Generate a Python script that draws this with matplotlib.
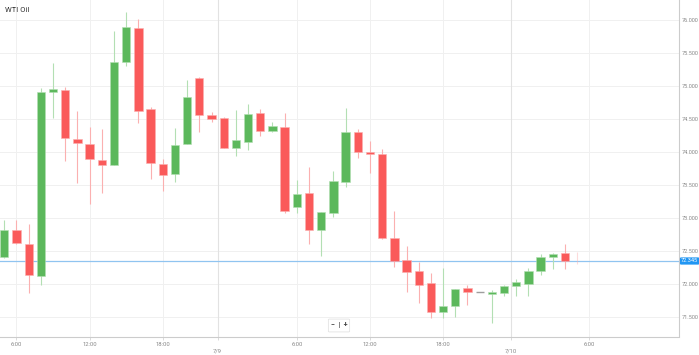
import numpy as np
import matplotlib
matplotlib.use('Agg')
from matplotlib import pyplot as plt
from matplotlib import transforms

plt.rcParams['font.family'] = ['Roboto', 'DejaVu Sans']

# hourly candles, WTI Oil
opens = [72.41, 72.815, 72.598, 72.117, 74.903, 74.938, 74.19, 74.119, 73.881, 73.80,
         75.358, 75.874, 74.645, 73.82, 73.66, 74.115, 75.125, 74.559, 74.514, 74.063,
         74.154, 74.585, 74.321, 74.382, 73.159, 73.376, 72.815, 73.077, 73.547, 74.306,
         73.993, 73.963, 72.693, 72.36, 72.193, 72.006, 71.567, 71.667, 71.93, 71.875,
         71.849, 71.859, 71.97, 72.0, 72.2, 72.40, 72.461, 72.35]
highs = [72.96, 72.97, 72.90, 74.964, 75.353, 74.986, 74.62, 74.382, 74.347, 75.838,
         76.126, 76.015, 74.676, 73.887, 74.357, 75.09, 75.14, 74.61, 74.533, 74.635,
         74.721, 74.655, 74.446, 74.594, 73.573, 73.775, 73.093, 73.71, 74.67, 74.342,
         74.165, 74.043, 73.108, 72.577, 72.325, 72.17, 72.243, 71.925, 71.98, 71.875,
         71.905, 71.98, 72.067, 72.237, 72.451, 72.461, 72.602, 72.474]
lows = [72.39, 72.61, 71.864, 71.984, 74.509, 73.866, 73.532, 73.209, 73.381, 73.80,
        75.30, 74.433, 73.588, 73.406, 73.547, 74.115, 74.297, 74.46, 74.054, 73.937,
        74.028, 74.245, 74.30, 73.068, 73.068, 72.603, 72.425, 73.017, 73.47, 73.90,
        73.684, 72.674, 72.26, 71.878, 71.712, 71.479, 71.479, 71.49, 71.677, 71.875,
        71.40, 71.807, 71.814, 71.814, 72.136, 72.222, 72.222, 72.302]
closes = [72.815, 72.614, 72.132, 74.903, 74.958, 74.206, 74.13, 73.887, 73.805, 75.358,
          75.90, 74.62, 73.826, 73.654, 74.104, 74.828, 74.559, 74.503, 74.054, 74.175,
          74.57, 74.316, 74.392, 73.108, 73.361, 72.81, 73.083, 73.558, 74.297, 74.0,
          73.97, 72.698, 72.345, 72.173, 71.984, 71.567, 71.662, 71.925, 71.87, 71.875,
          71.879, 71.964, 72.025, 72.193, 72.405, 72.454, 72.345, 72.345]
last_price = 72.345

time_pos = [1, 7, 13, 24, 30, 36, 48]
time_labels = ['6:00', '12:00', '18:00', '6:00', '12:00', '18:00', '6:00']
date_pos = [17.5, 41.55]
date_labels = ['7/9', '7/10']
y_ticks = [71.5, 72.0, 72.5, 73.0, 73.5, 74.0, 74.5, 75.0, 75.5, 76.0]

GREEN = '#5cb85c'
RED = '#fa5a5a'
GREEN_W = '#b3dfb3'
RED_W = '#fbb0b0'

fig = plt.figure(figsize=(6.99, 3.55), dpi=100)
ax = fig.add_axes([0, 18.5 / 355, 679 / 699, 1 - 18.5 / 355])

x = np.arange(len(opens))
o = np.array(opens); c = np.array(closes)
h = np.array(highs); l = np.array(lows)
n = len(o)
w = 0.68

for i in range(n):
    up = c[i] > o[i]
    flat = c[i] == o[i]
    pale = (i == n - 1)
    if flat:
        body_c, wick_c = '#9e9e9e', '#bdbdbd'
    elif up:
        body_c, wick_c = GREEN, GREEN_W
    else:
        body_c, wick_c = RED, RED_W
    a = 0.45 if pale else 1.0
    ax.vlines(x[i], l[i], h[i], color=wick_c, lw=0.8, zorder=3, alpha=a)
    if flat:
        ax.hlines(o[i], x[i] - w / 2, x[i] + w / 2, color=body_c, lw=1.0, zorder=4)
    elif not pale:
        ax.bar(x[i], abs(c[i] - o[i]), w, bottom=min(o[i], c[i]),
               color=body_c, edgecolor=wick_c, linewidth=0.4, zorder=4)

ax.axhline(last_price, color='#90c4f0', lw=0.9, zorder=2)

ax.set_xlim(-0.35, 55.35)
ax.set_ylim(71.20, 76.303)

# grid
for yv in y_ticks:
    ax.axhline(yv, color='#f0f0f0', lw=0.7, zorder=0)
for xv in time_pos:
    ax.axvline(xv, color='#f0f0f0', lw=0.7, zorder=0)
for xv in date_pos:
    ax.axvline(xv, color='#e2e2e2', lw=0.8, zorder=0)

ax.set_xticks(time_pos)
ax.set_xticklabels(time_labels)
ax.set_xticks(date_pos, minor=True)
ax.set_xticklabels(date_labels, minor=True)
ax.tick_params(axis='x', which='major', labelsize=4.2, colors='#888888', length=2,
               width=0.5, pad=2)
ax.tick_params(axis='x', which='minor', labelsize=4.2, colors='#888888', length=2,
               width=0.5, pad=6.5)
ax.tick_params(axis='x', which='both', color='#cccccc')

ax.yaxis.tick_right()
ax.set_yticks(y_ticks)
ax.set_yticklabels(['%.3f' % v for v in y_ticks])
ax.tick_params(axis='y', labelsize=4, colors='#888888', length=0, pad=2)

for s in ['top', 'left']:
    ax.spines[s].set_visible(False)
for s in ['bottom', 'right']:
    ax.spines[s].set_color('#cccccc')
    ax.spines[s].set_linewidth(0.8)

# current price tag
trans = transforms.blended_transform_factory(ax.transAxes, ax.transData)
ax.text(1.003, last_price, '%.3f' % last_price, transform=trans, fontsize=4,
        color='white', va='center', ha='left',
        bbox=dict(boxstyle='round,pad=0.2,rounding_size=0.2', fc='#2196f3', ec='none'))

ax.text(0.007, 0.97, 'WTI Oil', transform=ax.transAxes, fontsize=5.5,
        color='#333333', va='center', ha='left')

# zoom buttons
fig.text(339 / 699, 1 - 325.5 / 355, '\u2212  |  +', fontsize=5, ha='center', va='center',
         color='#444444', fontweight='bold',
         bbox=dict(boxstyle='round,pad=0.35,rounding_size=0.15', fc='white',
                   ec='#dddddd', lw=0.5))

fig.savefig('out.png', dpi=100)
